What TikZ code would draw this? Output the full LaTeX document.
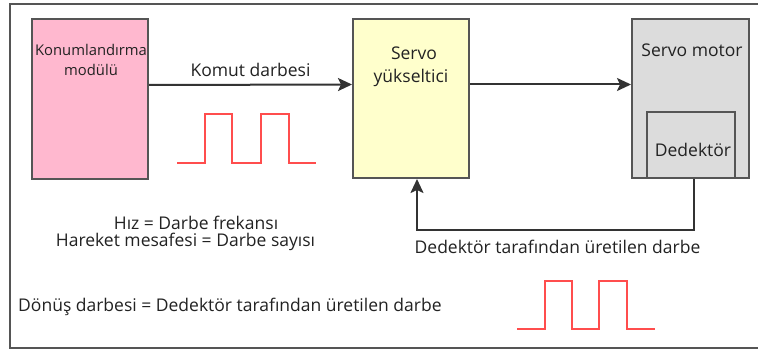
\documentclass[tikz,border=0pt]{standalone}
\usepackage{fontspec}
\setmainfont{Open Sans}
\usetikzlibrary{arrows.meta,calc}
\definecolor{boxline}{HTML}{555555}
\definecolor{pinkfill}{HTML}{FFB8CF}
\definecolor{yellowfill}{HTML}{FFFFCC}
\definecolor{greyfill}{HTML}{DCDCDC}
\definecolor{pulsered}{HTML}{FF4D4D}
\definecolor{txt}{HTML}{222222}
\tikzset{
  block/.style={draw=boxline, line width=2pt, inner sep=0pt, anchor=center},
  lbl/.style={inner sep=0pt, text=txt, font=\fontsize{17.5}{20}\selectfont},
  small/.style={font=\fontsize{14.8}{17}\selectfont},
  conn/.style={draw=black!80, line width=2pt, -{Stealth[length=14pt,width=13pt,inset=3pt]}},
  pulse/.style={draw=pulsered, line width=2pt, line join=miter},
}
\begin{document}
\begin{tikzpicture}[x=1pt,y=-1pt]
\useasboundingbox (0,0) rectangle (758,350);
\fill[white] (0,0) rectangle (758,350);
% outer frame
\draw[boxline, line width=2pt] (10,4) rectangle (775,348);

% blocks
\node[block, fill=pinkfill, minimum width=116pt, minimum height=160pt] (pos) at (90,99) {};
\node[block, fill=yellowfill, minimum width=116pt, minimum height=159pt] (amp) at (411,98.5) {};
\node[block, fill=greyfill, minimum width=117pt, minimum height=159pt] (motor) at (690.5,98.5) {};
\node[block, fill=greyfill, minimum width=88pt, minimum height=66pt] (det) at (691,145) {};

% block labels
\node[lbl, small] (posA) at (91,50) {Konumlandırma};
\node[lbl, small] (posB) at (91,70) {modülü};
\node[lbl] (ampA) at (414,53) {Servo};
\node[lbl] (ampB) at (411,78) {yükseltici};
\node[lbl] (motA) at (692,50) {Servo motor};
\node[lbl] (detA) at (693,150) {Dedektör};

% connectors
\draw[conn] ($(pos.east)+(0,-14)$) -- ($(amp.west)+(0,-14)$)
  node[lbl, midway, above=7pt] (cmd) {Komut darbesi};
\draw[conn] ($(amp.east)+(0,-14)$) -- ($(motor.west)+(0,-14)$);
\coordinate (fb) at (694,230);
\draw[conn] ($(det.south)+(3,0)$) |- (fb) -| ($(amp.south)+(6,0)$);
\node[lbl] (fbl) at (557.5,247) {Dedektör tarafından üretilen darbe};

% pulse trains
\draw[pulse] (177,163) -- (205,163) -- (205,114) -- (232,114) -- (232,163)
  -- (261,163) -- (261,114) -- (289,114) -- (289,163) -- (316,163);
\draw[pulse] (517,329) -- (545,329) -- (545,281) -- (572,281) -- (572,329)
  -- (599,329) -- (599,281) -- (627,281) -- (627,329) -- (655,329);

% relations
\node[lbl] (speed) at (196,223) {Hız = Darbe frekansı};
\node[lbl] (dist) at (185.5,242) {Hareket mesafesi = Darbe sayısı};
\node[lbl, anchor=west] (ret) at (18,307) {Dönüş darbesi = Dedektör tarafından üretilen darbe};
\end{tikzpicture}
\end{document}
